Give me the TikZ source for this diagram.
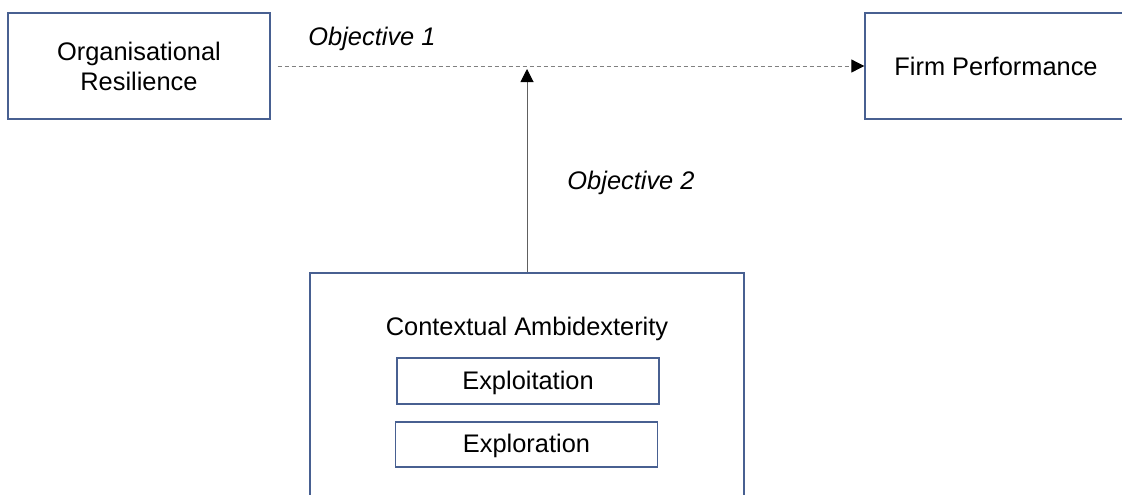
\documentclass[tikz,border=0pt]{standalone}
\usepackage{fontspec}
\setmainfont{Liberation Sans}
\usetikzlibrary{arrows.meta}

\definecolor{boxblue}{RGB}{72,96,145}
\definecolor{linegray}{RGB}{128,128,128}
\definecolor{stemgray}{RGB}{96,96,96}

\begin{document}
\begin{tikzpicture}[x=0.5pt,y=-0.5pt,
  font=\fontsize{12.7}{15}\selectfont,
  box/.style={draw=boxblue,line width=0.7pt,minimum width=131pt,align=center,inner sep=0pt},
  objlabel/.style={font=\fontsize{12.7}{15}\selectfont\itshape},
  tip/.style={-{Triangle[length=6.5pt,width=6.5pt,color=black]}}]

\path[use as bounding box,clip] (0,0) rectangle (1122,494);

\node[box,minimum height=53pt] (org) at (139,66) {Organisational\\Resilience};
\node[box,minimum height=53pt] (firm) at (996,66) {Firm Performance};

% outer box runs past the bottom edge
\node[box,minimum width=217pt,minimum height=130pt] (ctx) at (527,403) {};
\node (ctxtitle) at (527,329) {Contextual Ambidexterity};
\node[box,minimum height=23pt] (exploit) at (528,381) {};
\node[box,minimum height=22.5pt] (explore) at (526.5,444.5) {};
\node at (528,383) {Exploitation};
\node at (526.5,446) {Exploration};

\draw[tip,linegray,line width=0.5pt,dash pattern=on 2pt off 1.5pt,shorten <=3.5pt] (org.east) -- (firm.west);
\draw[tip,stemgray,line width=0.5pt,shorten >=1.5pt] (ctx.north) -- (ctx.north |- org.east);

\node[objlabel] (obj1) at (372,39) {Objective 1};
\node[objlabel] (obj2) at (631,183) {Objective 2};

\end{tikzpicture}
\end{document}
